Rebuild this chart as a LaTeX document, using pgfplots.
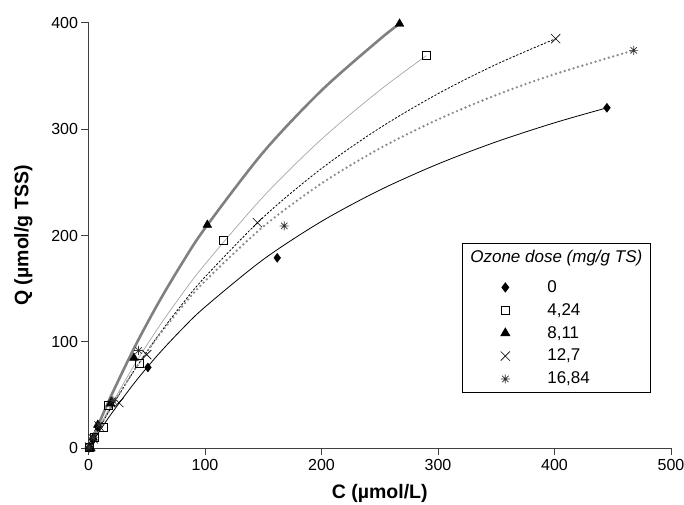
\documentclass[border=0pt]{standalone}
\usepackage{pgfplots}
\pgfplotsset{compat=1.18}
\usepackage{fontspec}
\setmainfont{Liberation Sans}
\pgfdeclareplotmark{star8}{%
  \pgfpathmoveto{\pgfqpoint{-\pgfplotmarksize}{0pt}}\pgfpathlineto{\pgfqpoint{\pgfplotmarksize}{0pt}}%
  \pgfpathmoveto{\pgfqpoint{0pt}{-\pgfplotmarksize}}\pgfpathlineto{\pgfqpoint{0pt}{\pgfplotmarksize}}%
  \pgfpathmoveto{\pgfqpoint{-.7071\pgfplotmarksize}{-.7071\pgfplotmarksize}}\pgfpathlineto{\pgfqpoint{.7071\pgfplotmarksize}{.7071\pgfplotmarksize}}%
  \pgfpathmoveto{\pgfqpoint{-.7071\pgfplotmarksize}{.7071\pgfplotmarksize}}\pgfpathlineto{\pgfqpoint{.7071\pgfplotmarksize}{-.7071\pgfplotmarksize}}%
  \pgfusepathqstroke}
\begin{document}
\begin{tikzpicture}
\useasboundingbox (0,0) rectangle (684pt,504pt);
\begin{axis}[
  at={(88.5pt,55.7pt)}, anchor=south west,
  scale only axis, width=582.5pt, height=425.6pt,
  xmin=0, xmax=500, ymin=0, ymax=400,
  xtick={0,100,...,500}, ytick={0,100,...,400},
  axis x line*=bottom, axis y line*=left,
  axis line style={-, black!75, line width=0.9pt},
  tick style={black!75, line width=0.9pt},
  tick align=outside, major tick length=7pt,
  minor tick num=0,
  clip=false,
  /pgf/number format/assume math mode=true,
  tick label style={font=\fontsize{16}{19}\selectfont},
  xlabel={C (µmol/L)}, ylabel={Q (µmol/g TSS)},
  every axis x label/.style={at={(axis description cs:0.5,-0.105)}, anchor=center, font=\fontsize{19.5}{23}\selectfont\bfseries},
  every axis y label/.style={at={(axis description cs:-0.112,0.5)}, anchor=center, rotate=90, font=\fontsize{19.5}{23}\selectfont\bfseries},
  legend cell align=left,
  legend image code/.code={\path[draw=none, fill=none] (-35pt,-2pt) rectangle (42pt,2pt); \draw[#1] plot coordinates {(0pt,0pt)};},
  legend style={at={(axis description cs:0.641,0.483)}, anchor=north west,
    draw=black, line width=0.9pt, fill=white,
    inner xsep=8pt, inner ysep=7pt, row sep=9pt,
    nodes={inner sep=0pt, text depth=0.2em},
    font=\fontsize{17}{20}\selectfont},
]
% fitted curves
\addplot[forget plot, black, line width=0.8pt, smooth] coordinates {
(0,0) (5,8.66) (10,17.05) (20,33.05) (40,62.29) (60,88.36) (80,111.73) (100,132.8) (150,177.43) (200,213.26) (250,242.66) (300,267.22) (350,288.05) (400,305.93) (445,320)};
\addplot[forget plot, black!35, line width=0.7pt, smooth] coordinates {
(0,0) (5,10.8) (10,21.33) (20,41.66) (40,79.56) (60,113.5) (80,144.5) (100,173) (150,236.5) (200,290.5) (250,336.5) (290,369)};
\addplot[forget plot, black!50, line width=2.6pt, smooth] coordinates {
(0,0) (5,13.23) (10,26.08) (20,50.69) (40,95.97) (60,136.67) (80,173.43) (100,206.82) (150,278.24) (200,336.3) (250,384.4) (267,399)};
\addplot[forget plot, black, line width=0.8pt, dash pattern=on 2.2pt off 1.6pt, smooth] coordinates {
(0,0) (5,10.24) (10,20.18) (20,39.26) (40,74.45) (60,106.16) (80,134.88) (100,161.02) (150,217.13) (200,262.95) (250,301.06) (300,333.26) (350,360.84) (401,385)};
\addplot[forget plot, black!45, line width=2.6pt, line cap=round, dash pattern=on 0pt off 4.6pt, smooth] coordinates {
(0,0) (5,10.47) (10,20.58) (20,39.79) (40,74.61) (60,105.35) (80,132.68) (100,157.14) (150,208.36) (200,248.92) (250,281.84) (300,309.09) (350,332.03) (400,351.59) (468,374)};
% legend title
\addlegendimage{empty legend}
\addlegendentry[text depth=9pt]{\hspace{-77pt}\textit{Ozone dose (mg/g TS)}}
% data points
\addplot[only marks, mark=diamond*, mark size=4.5pt, black] coordinates {
(0.5,0.5) (4,8) (8,20) (20,44) (51,76) (162,179) (445,320)};
\addlegendentry{0}
\addplot[only marks, mark=square, mark size=4pt, black, mark options={line width=0.7pt}] coordinates {
(1,1) (5,10) (13,20) (17,40) (44,80) (116,195) (290,369)};
\addlegendentry{4,24}
\addplot[only marks, mark=triangle*, mark size=5pt, black] coordinates {
(2,0) (4,10) (8,22) (19,42) (39,85) (102,210) (267,399)};
\addlegendentry{8,11}
\addplot[only marks, mark=x, mark size=6.5pt, black, mark options={line width=0.6pt}] coordinates {
(1,1) (4,9) (9,21) (26,43) (50,88) (145,212) (401,385)};
\addlegendentry{12,7}
\addplot[only marks, mark=star8, mark size=4.5pt, black!80, mark options={line width=0.7pt}] coordinates {
(0.5,1) (4,10) (9,22) (21,45) (43,92) (168,209) (468,374)};
\addlegendentry{16,84}
\end{axis}
\end{tikzpicture}
\end{document}
